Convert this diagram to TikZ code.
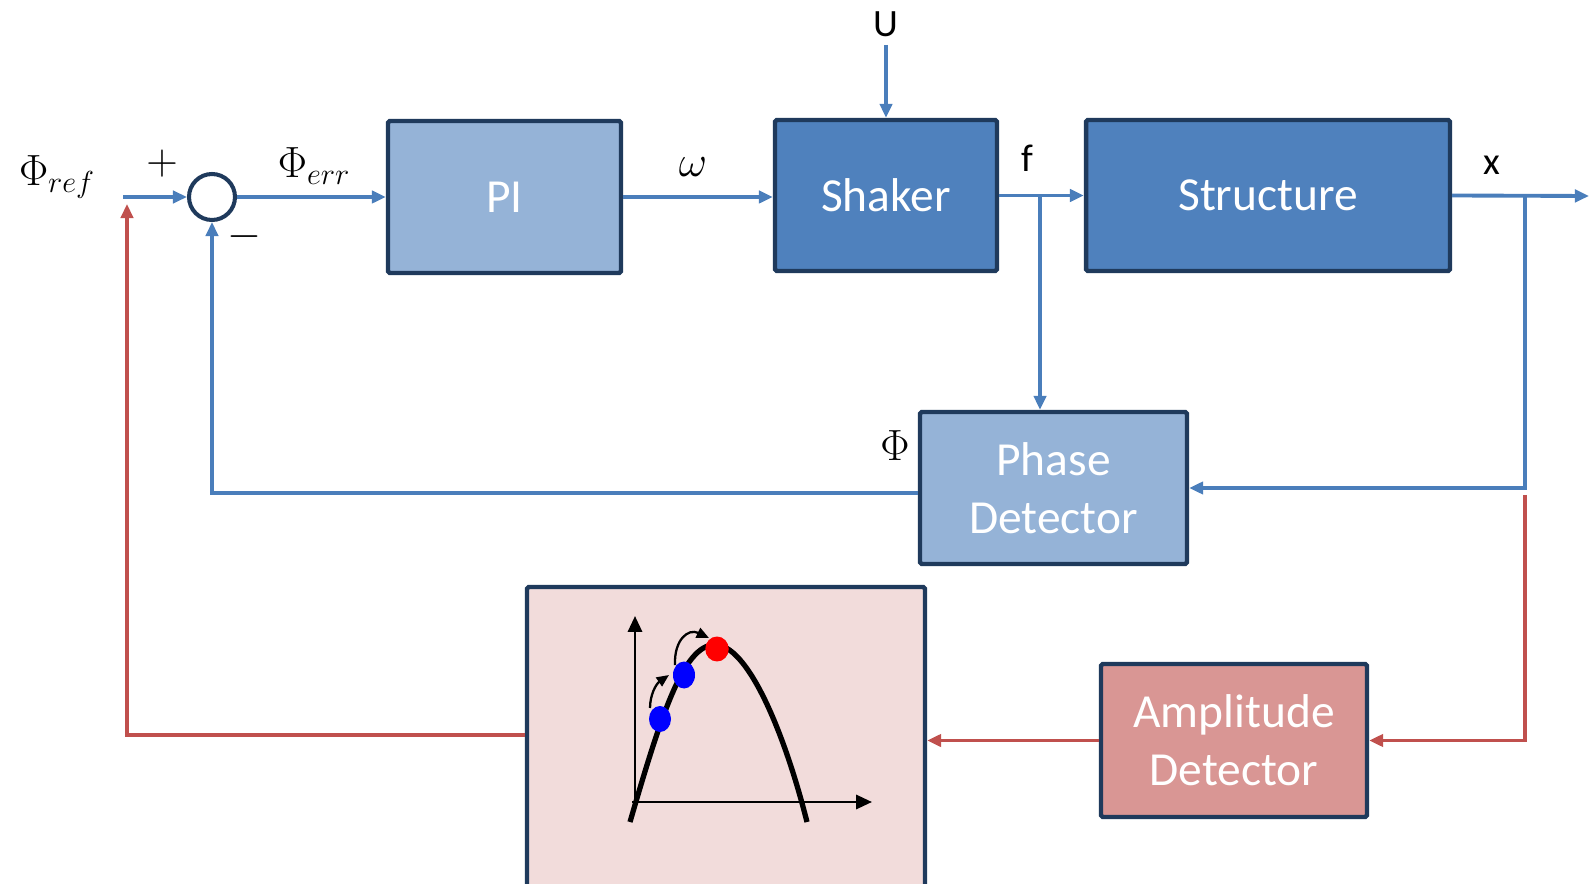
\documentclass[tikz,border=0pt]{standalone}
\usepackage{fontspec}
\setmainfont{Carlito}
\usetikzlibrary{arrows.meta}
\definecolor{bline}{HTML}{4A7EBB}
\definecolor{rline}{HTML}{C0504D}
\definecolor{navy}{HTML}{1F3A5C}
\definecolor{dblue}{HTML}{4F81BD}
\definecolor{lblue}{HTML}{95B3D7}
\definecolor{lred}{HTML}{D99694}
\definecolor{lpink}{HTML}{F2DCDB}
\begin{document}
\begin{tikzpicture}[x=0.02cm,y=-0.02cm,
  blk/.style={draw=navy, line width=2.5pt, rounded corners=1pt, text=white,
    font=\fontsize{27}{33}\selectfont, align=center, inner sep=0pt},
  sig/.style={draw=bline, line width=2.2pt, -{Triangle[length=8pt,width=7pt]}},
  rsig/.style={draw=rline, line width=2.2pt, -{Triangle[length=8pt,width=7pt]}},
  lbl/.style={font=\fontsize{22}{26}\selectfont, inner sep=0pt},
  mlbl/.style={font=\fontsize{26}{30}\selectfont, inner sep=0pt},
  ptr/.style={black, line width=1.3pt, -{Triangle[length=7pt,width=6pt]}}]
\path[use as bounding box, clip] (0,0) rectangle (1591,884);
\fill[white] (0,0) rectangle (1591,884);

% blocks
\node[blk, fill=lblue, minimum width=4.66cm, minimum height=3.04cm] (pi) at (504.5,197) {PI};
\node[blk, fill=dblue, minimum width=4.44cm, minimum height=3.02cm] (shaker) at (886,195.5) {Shaker};
\node[blk, fill=dblue, minimum width=7.28cm, minimum height=3.02cm] (struct) at (1268,195.5) {Structure};
\node[blk, fill=lblue, minimum width=5.34cm, minimum height=3.04cm] (phase) at (1053.5,488) {Phase\\Detector};
\node[blk, fill=lred, minimum width=5.32cm, minimum height=3.06cm] (amp) at (1234,740.5) {Amplitude\\Detector};
\node[blk, fill=lpink, minimum width=7.96cm, minimum height=6.26cm] (plot) at (726,743.5) {};
\node[circle, draw=navy, line width=2.3pt, minimum size=0.92cm, inner sep=0pt] (sum) at (212,197) {};

% coordinates
\coordinate (in) at (123,197);
\coordinate (ustart) at (886,45);
\coordinate (fb) at (1040,196);
\coordinate (xb) at (1525,196);
\coordinate (xout) at (1589,196);
\coordinate (rb) at (1525,495);
\coordinate (rtop) at (127,204);

% blue signals
\draw[sig] (in) -- (sum.west);
\draw[sig] (sum.east) -- (pi.west);
\draw[sig] (pi.east) -- (shaker.west |- pi.east);
\draw[sig] (ustart) -- (shaker.north);
\draw[sig] (shaker.east) -- (struct.west);
\draw[sig] (fb) -- (fb |- phase.north);
\draw[sig] (struct.east) -- (xout);
\draw[sig] (xb) |- (phase.east);
\draw[sig] ([yshift=-2.8pt]phase.west) -| (sum.south);

% red signals
\draw[rsig] (rb) |- (amp.east);
\draw[rsig] (amp.west) -- (plot.east |- amp.west);
\draw[rsig] ([yshift=4.8pt]plot.west) -| (rtop);

% labels
\node[mlbl] (lref) at (57,177) {$\Phi_{ref}$};
\node[mlbl] (lplus) at (162,164) {$+$};
\node[mlbl] (lminus) at (244,237) {$-$};
\node[mlbl] (lerr) at (314,166) {$\Phi_{err}$};
\node[mlbl] (lw) at (693,167) {$\omega$};
\node[lbl] (lu) at (886,24) {U};
\node[lbl] (lf) at (1027,158) {f};
\node[lbl] (lx) at (1492,165) {x};
\node[mlbl] (lphi) at (895,446) {$\Phi$};

% plot contents
\draw[black, line width=1.5pt, -{Triangle[length=9pt,width=8pt]}] (635,806) -- (635,616);
\draw[black, line width=1.5pt, -{Triangle[length=9pt,width=8pt]}] (632,802) -- (872,802);
\draw[black, line width=3pt] (630,822) .. controls (662,712) and (685,640) .. (718,645)
  .. controls (750,650) and (785,735) .. (807,822);
\fill[blue] (660,719) ellipse [x radius=0.22cm, y radius=0.26cm];
\fill[blue] (684,675) ellipse [x radius=0.22cm, y radius=0.27cm];
\fill[red] (717,649) ellipse [x radius=0.235cm, y radius=0.25cm];
\draw[ptr] (650,708) .. controls (650,695) and (656,684) .. (669,675);
\draw[ptr] (675,665) .. controls (674,640) and (688,628) .. (709,638);
\end{tikzpicture}
\end{document}
